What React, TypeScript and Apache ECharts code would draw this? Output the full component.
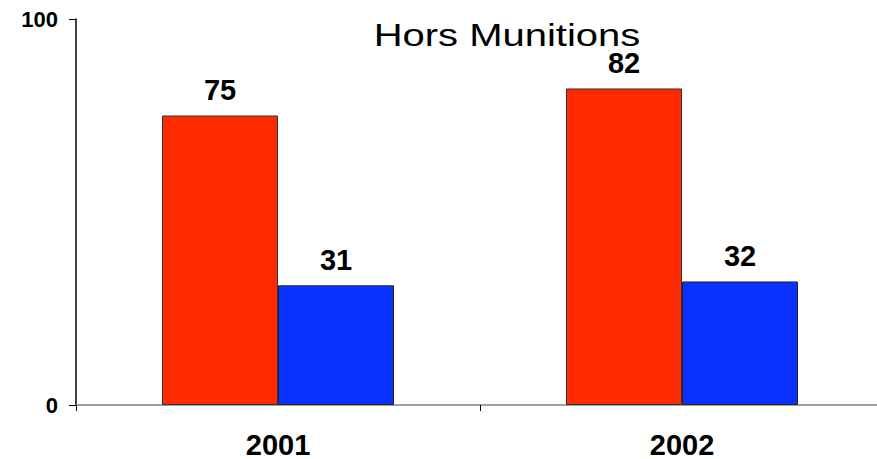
import React, { useEffect, useRef } from "react";
import * as echarts from "echarts";

const categories = ["2001", "2002"];
const seriesA = [75, 82];
const seriesB = [31, 32];
const titleText = "Hors Munitions";

export default function App() {
  const ref = useRef<HTMLDivElement>(null);
  useEffect(() => {
    document.body.style.margin = "0";
    if (!ref.current) return;
    const chart = echarts.init(ref.current, null, { renderer: "svg" });
    const label = {
      show: true,
      position: "top" as const,
      distance: 11,
      color: "#000",
      fontFamily: "Liberation Sans, Arial, sans-serif",
      fontWeight: "bold" as const,
      fontSize: 29,
    };
    chart.setOption({
      animation: false,
      backgroundColor: "#fff",
      graphic: [
        {
          type: "text",
          x: 507,
          y: 36,
          scaleY: 0.78,
          z: 10,
          style: {
            text: titleText,
            fontFamily: "Liberation Sans, Arial, sans-serif",
            fontSize: 40,
            fill: "#000",
            textAlign: "center",
            textVerticalAlign: "middle",
          },
        },
      ],
      grid: {
        left: 76,
        width: 808,
        top: 19,
        bottom: 54,
        containLabel: false,
        outerBoundsMode: "none",
      },
      xAxis: {
        type: "category",
        data: categories,
        axisLine: { lineStyle: { color: "#808080", width: 1.5 } },
        axisTick: { show: true, length: 6, lineStyle: { color: "#000" } },
        axisLabel: {
          margin: 25,
          color: "#000",
          fontFamily: "Liberation Sans, Arial, sans-serif",
          fontWeight: "bold",
          fontSize: 29,
        },
      },
      yAxis: {
        type: "value",
        min: 0,
        max: 100,
        interval: 100,
        splitLine: { show: false },
        axisLine: { show: true, lineStyle: { color: "#000", width: 1.5 } },
        axisTick: { show: true, length: 7, lineStyle: { color: "#000" } },
        axisLabel: {
          margin: 18,
          color: "#000",
          fontFamily: "Liberation Sans, Arial, sans-serif",
          fontWeight: "bold",
          fontSize: 22,
        },
      },
      series: [
        {
          type: "bar",
          data: seriesA,
          barWidth: 116,
          barGap: "0%",
          itemStyle: { color: "#ff2a00", borderColor: "#333", borderWidth: 1 },
          label,
        },
        {
          type: "bar",
          data: seriesB,
          barWidth: 116,
          itemStyle: { color: "#0a32ff", borderColor: "#222", borderWidth: 1 },
          label,
        },
      ],
    });
    return () => chart.dispose();
  }, []);
  return <div ref={ref} style={{ width: 877, height: 459 }} />;
}
